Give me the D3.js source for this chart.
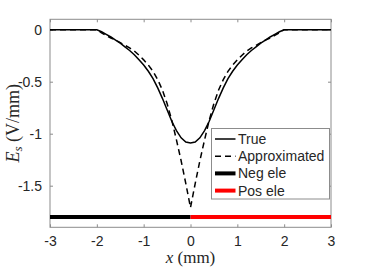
<!DOCTYPE html>
<html>
<head>
<meta charset="utf-8">
<script src="https://cdn.jsdelivr.net/npm/d3@7"></script>
<style>
  body { margin: 0; background: #fff; }
  text { font-family: "Liberation Sans", Arial, sans-serif; }
</style>
</head>
<body>
<div id="chart"></div>
<script>
// values
var xVals = [-3,-2,-1.9,-1.8,-1.7,-1.6,-1.5,-1.4,-1.3,-1.2,-1.1,-1,-0.9,-0.8,-0.7,-0.6,-0.5,-0.4,-0.3,-0.2,-0.1,0,
             0.1,0.2,0.3,0.4,0.5,0.6,0.7,0.8,0.9,1,1.1,1.2,1.3,1.4,1.5,1.6,1.7,1.8,1.9,2,3];
var trueVals = [0,0,-0.02,-0.045,-0.07,-0.10,-0.13,-0.165,-0.20,-0.24,-0.29,-0.34,-0.40,-0.47,-0.56,-0.66,-0.77,-0.88,-0.97,-1.04,-1.08,-1.09,
                -1.08,-1.04,-0.97,-0.88,-0.77,-0.66,-0.56,-0.47,-0.40,-0.34,-0.29,-0.24,-0.20,-0.165,-0.13,-0.10,-0.07,-0.045,-0.02,0,0];
var approxVals = [0,0,-0.03,-0.055,-0.08,-0.10,-0.125,-0.15,-0.175,-0.205,-0.245,-0.29,-0.34,-0.40,-0.48,-0.58,-0.71,-0.87,-1.06,-1.26,-1.48,-1.71,
                  -1.48,-1.26,-1.06,-0.87,-0.71,-0.58,-0.48,-0.40,-0.34,-0.29,-0.245,-0.205,-0.175,-0.15,-0.125,-0.10,-0.08,-0.055,-0.03,0,0];
var negEle = [[-3,-1.8],[0,-1.8]];
var posEle = [[0,-1.8],[3,-1.8]];
var xTicks = [-3,-2,-1,0,1,2,3];
var yTicks = [0,-0.5,-1,-1.5];
var legendLabels = ["True","Approximated","Neg ele","Pos ele"];

///////////////////////////////////////////////////////////////////////////
//////////////////////////////// Set up ///////////////////////////////////
///////////////////////////////////////////////////////////////////////////

var width = 366, height = 268;
var margin = {top: 19.3, right: 35, bottom: 40.7, left: 50};
var w = width - margin.left - margin.right;
var h = height - margin.top - margin.bottom;

var svg = d3.select("#chart").append("svg")
	.attr("width", width)
	.attr("height", height);

var g = svg.append("g")
	.attr("transform", "translate(" + margin.left + "," + margin.top + ")");

var x = d3.scaleLinear().domain([-3, 3]).range([0, w]);
var y = d3.scaleLinear().domain([-1.9, 0.1]).range([h, 0]);

var axisColor = "#8c8c8c";
var textColor = "#262626";

///////////////////////////////////////////////////////////////////////////
///////////////////////////////// Axes ////////////////////////////////////
///////////////////////////////////////////////////////////////////////////

function styleAxis(sel) {
	sel.select(".domain").remove();
	sel.selectAll(".tick line").attr("stroke", axisColor);
	sel.selectAll(".tick text").attr("fill", textColor).style("font-size", "14px");
}

var fmt = function(d) { return String(d); };

g.append("g").attr("transform", "translate(0," + h + ")")
	.call(d3.axisBottom(x).tickValues(xTicks).tickFormat(fmt).tickSizeInner(-3).tickSizeOuter(0).tickPadding(9))
	.call(styleAxis);
g.append("g")
	.call(d3.axisTop(x).tickValues(xTicks).tickFormat("").tickSizeInner(-3).tickSizeOuter(0))
	.call(styleAxis);
g.append("g")
	.call(d3.axisLeft(y).tickValues(yTicks).tickFormat(fmt).tickSizeInner(-3).tickSizeOuter(0).tickPadding(8))
	.call(styleAxis);
g.append("g").attr("transform", "translate(" + w + ",0)")
	.call(d3.axisRight(y).tickValues(yTicks).tickFormat("").tickSizeInner(-3).tickSizeOuter(0))
	.call(styleAxis);

//Box
g.append("rect")
	.attr("x", 0).attr("y", 0)
	.attr("width", w).attr("height", h)
	.attr("fill", "none")
	.attr("stroke", axisColor)
	.attr("stroke-width", 1);

///////////////////////////////////////////////////////////////////////////
///////////////////////////////// Lines ///////////////////////////////////
///////////////////////////////////////////////////////////////////////////

var line = d3.line().x(function(d) { return x(d[0]); }).y(function(d) { return y(d[1]); });

var trueData = xVals.map(function(v, i) { return [v, trueVals[i]]; });
var approxData = xVals.map(function(v, i) { return [v, approxVals[i]]; });

g.append("path").datum(trueData)
	.attr("d", line)
	.attr("fill", "none")
	.attr("stroke", "#000")
	.attr("stroke-width", 1.5);

g.append("path").datum(approxData)
	.attr("d", line)
	.attr("fill", "none")
	.attr("stroke", "#000")
	.attr("stroke-width", 1.5)
	.attr("stroke-dasharray", "6,4");

g.append("path").datum(negEle)
	.attr("d", line)
	.attr("stroke", "#000")
	.attr("stroke-width", 4);

g.append("path").datum(posEle)
	.attr("d", line)
	.attr("stroke", "#ff0000")
	.attr("stroke-width", 4);

///////////////////////////////////////////////////////////////////////////
/////////////////////////////// Labels ////////////////////////////////////
///////////////////////////////////////////////////////////////////////////

var xLabel = svg.append("text")
	.attr("x", margin.left + w / 2)
	.attr("y", 263)
	.attr("text-anchor", "middle")
	.attr("fill", textColor)
	.style("font-family", "'Liberation Serif', 'DejaVu Serif', serif")
	.style("font-size", "17px");
xLabel.append("tspan").style("font-style", "italic").text("x");
xLabel.append("tspan").text(" (mm)");

var yLabel = svg.append("text")
	.attr("transform", "translate(19," + (margin.top + h / 2) + ") rotate(-90)")
	.attr("text-anchor", "middle")
	.attr("fill", textColor)
	.style("font-family", "'Liberation Serif', 'DejaVu Serif', serif")
	.style("font-size", "18px");
yLabel.append("tspan").style("font-style", "italic").text("E");
yLabel.append("tspan").style("font-style", "italic").style("font-size", "13px").attr("dy", 3).text("s");
yLabel.append("tspan").attr("dy", -3).text(" (V/mm)");

///////////////////////////////////////////////////////////////////////////
/////////////////////////////// Legend ////////////////////////////////////
///////////////////////////////////////////////////////////////////////////

var legend = svg.append("g").attr("transform", "translate(211.5,128.5)");
legend.append("rect")
	.attr("width", 118).attr("height", 70.5)
	.attr("fill", "#fff")
	.attr("stroke", axisColor);

var legendStyles = [
	{stroke: "#000", width: 1.5, dash: null},
	{stroke: "#000", width: 1.5, dash: "6,4"},
	{stroke: "#000", width: 4, dash: null},
	{stroke: "#ff0000", width: 4, dash: null}
];

legendLabels.forEach(function(label, i) {
	var yy = 10.5 + i * 17.2;
	legend.append("line")
		.attr("x1", 3.5).attr("x2", 24)
		.attr("y1", yy).attr("y2", yy)
		.attr("stroke", legendStyles[i].stroke)
		.attr("stroke-width", legendStyles[i].width)
		.attr("stroke-dasharray", legendStyles[i].dash);
	legend.append("text")
		.attr("x", 26.5).attr("y", yy)
		.attr("dy", "0.35em")
		.attr("fill", textColor)
		.style("font-size", "14px")
		.text(label);
});
</script>
</body>
</html>
